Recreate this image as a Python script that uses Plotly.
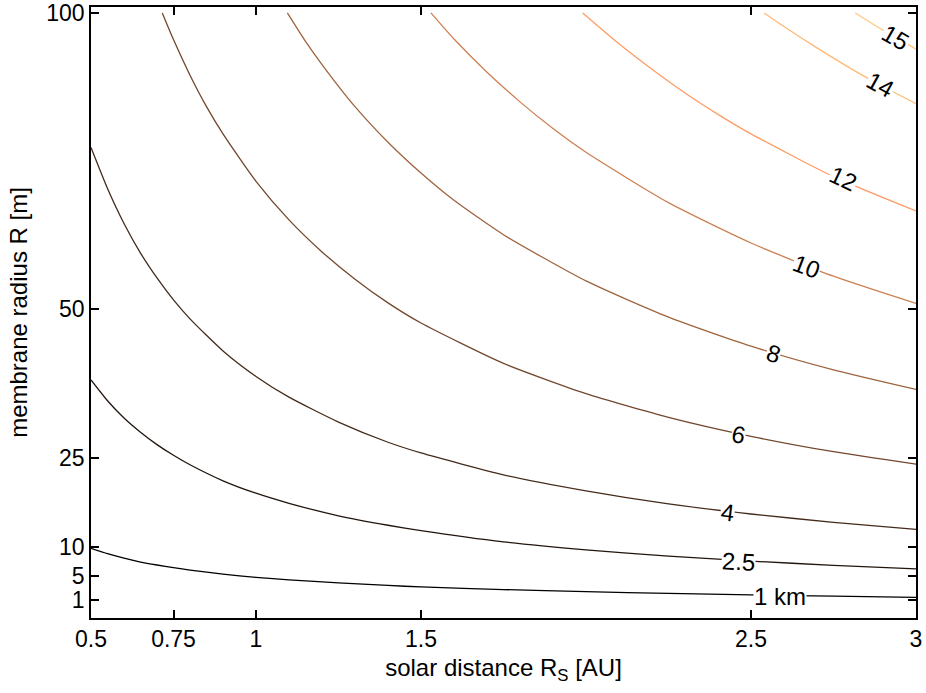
import plotly.graph_objects as go

# Contour lines of constant value: membrane radius R [m] vs. solar distance Rs [AU]
level_labels = ["1 km", "2.5", "4", "6", "8", "10", "12", "14", "15"]

rs_1 = [0.5, 0.55, 0.6, 0.65, 0.7, 0.75, 0.8, 0.9, 1.0, 1.1, 1.25, 1.4, 1.5,
        1.75, 2.0, 2.25, 2.5, 2.75, 3.0]
r_1 = [9.7, 8.8, 8.05, 7.4, 6.9, 6.45, 6.05, 5.35, 4.8, 4.4, 3.9, 3.45, 3.2,
       2.75, 2.4, 2.1, 1.85, 1.65, 1.45]

rs_2p5 = [0.5, 0.55, 0.6, 0.65, 0.7, 0.75, 0.8, 0.9, 1.0, 1.1, 1.25, 1.4, 1.5,
          1.75, 2.0, 2.25, 2.5, 2.75, 3.0]
r_2p5 = [38.1, 34.6, 31.7, 29.3, 27.2, 25.4, 23.8, 21.1, 19.0, 17.3, 15.2, 13.6,
         12.7, 10.8, 9.45, 8.4, 7.55, 6.85, 6.25]

rs_4 = [0.5, 0.55, 0.6, 0.65, 0.7, 0.75, 0.8, 0.9, 1.0, 1.1, 1.25, 1.4, 1.5,
        1.75, 2.0, 2.25, 2.5, 2.75, 3.0]
r_4 = [77.3, 70.4, 64.5, 59.5, 55.3, 51.6, 48.4, 43.0, 38.7, 35.2, 31.0, 27.6,
       25.8, 22.1, 19.4, 17.2, 15.5, 14.1, 12.9]

rs_6 = [0.716, 0.75, 0.8, 0.85, 0.9, 1.0, 1.1, 1.2, 1.3, 1.4, 1.5, 1.75, 2.0,
        2.25, 2.5, 2.75, 3.0]
r_6 = [100.0, 95.5, 89.5, 84.2, 79.6, 71.6, 65.1, 59.7, 55.1, 51.1, 47.7, 40.9,
       35.8, 31.8, 28.6, 26.0, 23.9]

rs_8 = [1.095, 1.15, 1.2, 1.3, 1.4, 1.5, 1.6, 1.75, 2.0, 2.25, 2.5, 2.75, 3.0]
r_8 = [100.0, 95.2, 91.3, 84.2, 78.2, 73.0, 68.4, 62.6, 54.8, 48.7, 43.8, 39.8, 36.5]

rs_10 = [1.53, 1.6, 1.7, 1.8, 1.9, 2.0, 2.25, 2.5, 2.75, 3.0]
r_10 = [100.0, 95.6, 90.0, 85.0, 80.5, 76.5, 68.0, 61.2, 55.6, 51.0]

rs_12 = [1.99, 2.1, 2.2, 2.3, 2.4, 2.5, 2.75, 3.0]
r_12 = [100.0, 94.8, 90.5, 86.5, 82.9, 79.6, 72.4, 66.6]

rs_14 = [2.54, 2.6, 2.7, 2.8, 2.9, 3.0]
r_14 = [100.0, 97.7, 94.1, 90.7, 87.6, 84.7]

rs_15 = [2.816, 2.9, 3.0]
r_15 = [100.0, 97.1, 93.9]

# inline label positions (Rs, R) and their rotation along the curve
label_rs = [2.587, 2.461, 2.43, 2.461, 2.567, 2.668, 2.78, 2.891, 2.938]
label_r = [1.65, 7.45, 15.7, 28.9, 42.6, 57.2, 72.1, 87.9, 95.8]
label_angle = [0, 3, 7, 12, 17, 21, 25, 29, 30]

# copper-style colour ramp from the lowest to the highest level
line_colors = ["#000000", "#22150e", "#442b1b", "#72472d", "#9f643f",
               "#cd8052", "#ff9c64", "#ffb976", "#ffc77f"]

xs = [rs_1, rs_2p5, rs_4, rs_6, rs_8, rs_10, rs_12, rs_14, rs_15]
ys = [r_1, r_2p5, r_4, r_6, r_8, r_10, r_12, r_14, r_15]

x_ticks = [0.5, 0.75, 1, 1.5, 2.5, 3]
x_ticktext = ["0.5", "0.75", "1", "1.5", "2.5", "3"]
y_ticks = [1, 5, 10, 25, 50, 100]

FONT = "Liberation Sans, Arial, Helvetica, sans-serif"

fig = go.Figure()
for x, y, c in zip(xs, ys, line_colors):
    fig.add_trace(go.Scatter(
        x=x, y=y, mode="lines",
        line=dict(color=c, width=1.3, shape="spline", smoothing=0.6),
        showlegend=False, hoverinfo="skip",
    ))

for txt, lx, ly, ang in zip(level_labels, label_rs, label_r, label_angle):
    fig.add_annotation(
        x=lx, y=ly, text=txt, showarrow=False, textangle=ang,
        font=dict(family=FONT, size=24, color="black"),
        bgcolor="white", borderpad=0,
    )

axis_common = dict(
    showline=True, linecolor="black", linewidth=1.5, mirror="ticks",
    ticks="inside", ticklen=8, tickwidth=1.5, tickcolor="black",
    showgrid=False, zeroline=False, automargin=False,
    ticklabeloverflow="allow",
    tickfont=dict(family=FONT, size=23, color="black"),
)

fig.update_layout(
    width=926, height=693,
    margin=dict(l=91, r=10, t=7, b=75),
    paper_bgcolor="white", plot_bgcolor="white",
    xaxis=dict(
        range=[0.5, 3.0], tickmode="array", tickvals=x_ticks, ticktext=x_ticktext,
        title=dict(text="solar distance R<sub>S</sub> [AU]",
                   font=dict(family=FONT, size=24, color="black"), standoff=8),
        **axis_common,
    ),
    yaxis=dict(
        range=[-2.04, 101.0], tickmode="array", tickvals=y_ticks,
        ticktext=[str(v) for v in y_ticks],
        title=dict(text="membrane radius R [m]",
                   font=dict(family=FONT, size=24, color="black"), standoff=12),
        **axis_common,
    ),
)

fig.write_html("out.html")
